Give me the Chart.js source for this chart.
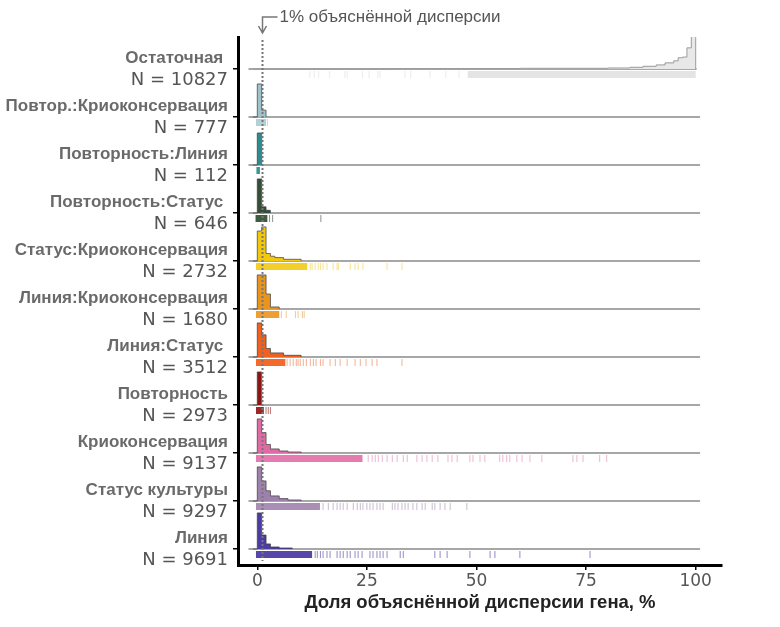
<!DOCTYPE html>
<html>
<head>
<meta charset="utf-8">
<script src="https://cdn.jsdelivr.net/npm/chart.js@4"></script>
<style>
  body { margin: 0; background: #fff; }
  canvas { display: block; }
</style>
</head>
<body>
<canvas id="js-variance-chart" width="780" height="627"></canvas>
<script>
// rows from top to bottom
const rowNames = ['Остаточная ', 'Повтор.:Криоконсервация', 'Повторность:Линия', 'Повторность:Статус ',
    'Статус:Криоконсервация', 'Линия:Криоконсервация', 'Линия:Статус ', 'Повторность',
    'Криоконсервация', 'Статус культуры', 'Линия'];
const rowCounts = [10827, 777, 112, 646, 2732, 1680, 3512, 2973, 9137, 9297, 9691];
const rowColors = ['#e8e8e8', '#a0c2ca', '#2f8c8e', '#344f36', '#f2c80f', '#e8951f',
    '#f0601e', '#8c1616', '#e06aa6', '#9e80ad', '#4b3ba3'];
const rugColors = ['rgba(215,215,215,0.5)', 'rgba(155,191,199,0.6)', 'rgba(47,140,142,0.6)',
    'rgba(52,79,54,0.6)', 'rgba(242,200,15,0.5)', 'rgba(232,149,31,0.5)', 'rgba(240,96,30,0.5)',
    'rgba(140,22,22,0.6)', 'rgba(224,106,166,0.5)', 'rgba(158,128,173,0.55)', 'rgba(75,59,163,0.6)'];
const rugDenseColors = ['#e4e4e4', '#b3d0d6', '#3d9597', '#3f5c41', '#f4cf2c', '#ec9f33',
    '#f26b2c', '#9a2a2a', '#e47cb0', '#a98fb6', '#5747a9'];

// histogram bins (edges) and relative heights, peak ~ 1
const histEdges = [
    [-1, 30, 60, 80, 85, 88, 91, 93, 95, 96, 97, 98, 99, 100],
    [-1, 0, 1, 2],
    [-1, 0, 1],
    [-1, 0, 1, 2, 3],
    [-1, 0, 1, 2, 3, 4, 6, 10],
    [-1, 0, 1, 2, 3, 5],
    [-1, 0, 1, 2, 3, 6, 10],
    [-1, 0, 1],
    [-1, 0, 1, 2, 3, 5, 7, 10],
    [-1, 0, 1, 2, 3, 5, 7, 10],
    [-1, 0, 1, 2, 3, 5, 8]
];
const histHeights = [
    [0.01, 0.02, 0.03, 0.05, 0.08, 0.12, 0.18, 0.24, 0.33, 0.35, 0.62, 1.0, 0.9],
    [0.97, 0.2, 0.03],
    [0.94, 0.06],
    [1.0, 0.18, 0.08, 0.02],
    [0.88, 1.0, 0.22, 0.14, 0.1, 0.05, 0.02],
    [1.0, 1.0, 0.44, 0.06, 0.02],
    [1.0, 0.65, 0.25, 0.12, 0.05, 0.02],
    [0.97, 0.05],
    [1.0, 0.6, 0.25, 0.12, 0.06, 0.03, 0.015],
    [1.0, 0.59, 0.3, 0.15, 0.07, 0.03, 0.015],
    [1.06, 0.41, 0.15, 0.06, 0.03, 0.015]
];

// rug: dense stretch [from, to] and single genes beyond it
const rugDense = [[48, 100], [-0.3, 2], [-0.2, 0.6], [-0.4, 2.3], [-0.3, 11.4], [-0.3, 5],
    [-0.3, 6.4], [-0.3, 1.5], [-0.3, 24], [-0.3, 14.3], [-0.3, 12.5]];
const rugTicks = [
    [12, 13, 14, 16.5, 20, 20.5, 24, 25.5, 27.5, 28, 33.7, 35, 39.4, 43, 46],
    [2.3],
    [],
    [2.8, 3.5, 14.5],
    [12.1, 12.5, 13.2, 13.9, 14.4, 15, 15.9, 17.3, 18.2, 18.5, 21.2, 22.3, 23, 24.1, 29.6, 33],
    [5.5, 6.6, 8.7, 9.3, 10.3, 10.7],
    [6.8, 7.5, 8.2, 8.9, 9.3, 9.8, 10.5, 11.2, 12.1, 12.8, 13.4, 14.4, 15, 16.6, 17.8, 18.9,
        20.5, 22.3, 23.5, 24.8, 26.2, 27.3, 33],
    [2, 2.5, 3],
    [25.3, 26.2, 26.9, 27.6, 28.5, 29.6, 30.8, 31.9, 33.3, 34.2, 36.4, 37.6, 38.7, 39.9, 41.2,
        43.5, 44.4, 45.6, 48.5, 49.2, 50.8, 51.9, 55.3, 56, 56.9, 57.6, 59.2, 60.4, 62.2, 64.9,
        72, 72.9, 74.3, 78.1, 79.7],
    [15, 16.2, 17.3, 18.2, 18.9, 19.6, 20.5, 21.9, 22.8, 23.5, 24.1, 25, 25.7, 26.4, 27.3, 28,
        28.7, 30.8, 31.4, 32.1, 33, 33.7, 34.4, 35.5, 36.4, 37.6, 38.3, 39.9, 40.5, 41.7, 42.8,
        44, 47.8],
    [13.2, 13.7, 14.4, 15, 15.9, 16.6, 18.2, 18.9, 19.6, 20.5, 21.2, 22.3, 23, 23.9, 25.7, 26.4,
        27.3, 28, 28.7, 29.6, 32.6, 33.3, 40.5, 41.7, 43.3, 48.5, 53.1, 54.2, 59.9, 75.9]
];

const xTicks = [0, 25, 50, 75, 100];
const threshold = 1;

const histScale = 0.71;
const rugOffset = 0.115;

function rowBase(i) {
    return rowNames.length - 1 - i + 1 / 3;
}

let datasets = [];
rowNames.forEach(function (name, i) {
    let base = rowBase(i);
    let edges = histEdges[i], h = histHeights[i];
    let last = edges[edges.length - 1];
    // stepped 'before': each point carries the height of the bin ending at it
    let pts = [{x: edges[0], y: base}];
    for (let j = 0; j < h.length; j++) {
        pts.push({x: edges[j + 1], y: base + h[j] * histScale});
    }
    pts.push({x: last + 0.001, y: base});
    datasets.push({
        data: pts,
        stepped: 'before',
        borderColor: i === 0 ? '#9a9a9a' : 'rgba(60,60,60,0.7)',
        borderWidth: 1,
        backgroundColor: rowColors[i],
        fill: {value: base},
        pointRadius: 0,
        order: 1
    });
    datasets.push({
        data: [{x: -2, y: base}, {x: i === 0 ? 100.2 : 101, y: base}],
        borderColor: '#8a8a8a',
        borderWidth: 1.5,
        pointRadius: 0,
        fill: false,
        order: 2
    });
    datasets.push({
        data: [{x: rugDense[i][0], y: base - rugOffset}, {x: rugDense[i][1], y: base - rugOffset}],
        borderColor: rugDenseColors[i],
        borderWidth: 7,
        borderCapStyle: 'butt',
        pointRadius: 0,
        fill: false,
        order: 3
    });
    datasets.push({
        data: rugTicks[i].map(v => ({x: v, y: base - rugOffset})),
        showLine: false,
        pointStyle: 'line',
        rotation: 90,
        pointRadius: 3.5,
        pointBorderWidth: 1,
        pointBorderColor: rugColors[i],
        fill: false,
        order: 3
    });
});

const rowLabels = {
    id: 'rowLabels',
    afterDraw(chart) {
        const c = chart.ctx, y = chart.scales.y, x0 = chart.chartArea.left - 10;
        c.save();
        c.textAlign = 'right';
        c.textBaseline = 'middle';
        rowNames.forEach(function (name, i) {
            let py = y.getPixelForValue(rowBase(i));
            c.fillStyle = '#6a6a6a';
            c.font = 'bold 17px "Liberation Sans", Arial, sans-serif';
            c.fillText(name, x0, py - 11);
            c.fillStyle = '#555';
            c.font = '18px "DejaVu Sans", sans-serif';
            c.fillText('N = ' + rowCounts[i], x0, py + 11);
        });
        c.restore();
    }
};

const thresholdMark = {
    id: 'thresholdMark',
    afterDatasetsDraw(chart) {
        const c = chart.ctx, area = chart.chartArea;
        const px = Math.round(chart.scales.x.getPixelForValue(threshold)) + 0.5;
        c.save();
        c.strokeStyle = '#777';
        c.lineWidth = 2;
        c.setLineDash([2, 2]);
        c.beginPath();
        c.moveTo(px, area.top + 3);
        c.lineTo(px, area.bottom - 4);
        c.stroke();
        c.setLineDash([]);
        c.lineWidth = 1.5;
        c.beginPath();
        c.moveTo(px + 15, 17);
        c.lineTo(px, 17);
        c.lineTo(px, 33);
        c.moveTo(px - 4, 26);
        c.lineTo(px, 33);
        c.lineTo(px + 4, 26);
        c.stroke();
        c.fillStyle = '#555';
        c.font = '17px "Liberation Sans", Arial, sans-serif';
        c.textBaseline = 'middle';
        c.fillText('1% объяснённой дисперсии', px + 17, 17);
        c.restore();
    }
};

new Chart(document.getElementById('js-variance-chart').getContext('2d'), {
    type: 'line',
    data: {datasets: datasets},
    options: {
        responsive: false,
        animation: false,
        events: [],
        layout: {padding: {top: 37, right: 58, left: 0, bottom: 0}},
        plugins: {legend: {display: false}, tooltip: {enabled: false}},
        scales: {
            x: {
                type: 'linear',
                min: -4.4,
                max: 106,
                afterBuildTicks: s => { s.ticks = xTicks.map(v => ({value: v})); },
                afterFit: s => { s.height = 62; },
                ticks: {color: '#555', font: {family: 'DejaVu Sans', size: 17}, padding: 1},
                grid: {drawOnChartArea: false, color: '#000', tickLength: 5, lineWidth: 1.5},
                border: {color: '#000', width: 3},
                title: {
                    display: true,
                    text: 'Доля объяснённой дисперсии гена, %',
                    color: '#222',
                    font: {family: 'Liberation Sans', weight: 'bold', size: 18.5},
                    padding: {top: 0, bottom: 13}
                }
            },
            y: {
                type: 'linear',
                min: 0,
                max: 11,
                afterBuildTicks: s => { s.ticks = rowNames.map((n, i) => ({value: rowBase(i)})); },
                afterFit: s => { s.width = 238; },
                ticks: {display: false},
                grid: {drawOnChartArea: false, color: '#000', tickLength: 5, lineWidth: 1.5},
                border: {color: '#000', width: 3}
            }
        }
    },
    plugins: [rowLabels, thresholdMark]
});
</script>
</body>
</html>
